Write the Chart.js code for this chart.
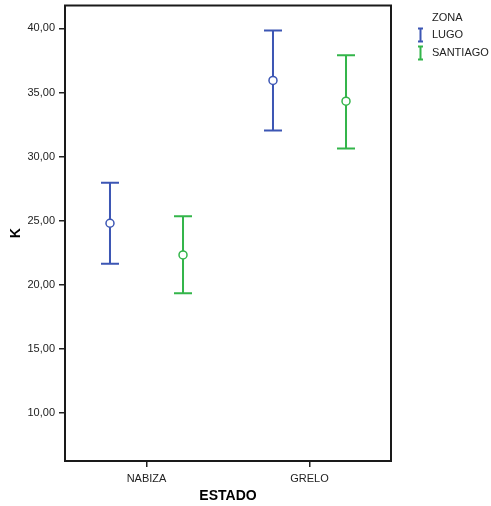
<!DOCTYPE html>
<html>
<head>
<meta charset="utf-8">
<script src="https://cdn.jsdelivr.net/npm/chart.js@4"></script>
<style>
  html, body { margin: 0; padding: 0; background: #fff; }
</style>
</head>
<body>
<canvas id="myChart" width="491" height="506"></canvas>
<script>
const categories = ["NABIZA", "GRELO"];
const zonas = ["LUGO", "SANTIAGO"];
const lugoMean = [24.79, 35.94];
const lugoLow = [21.62, 32.04];
const lugoHigh = [27.96, 39.84];
const santiagoMean = [22.32, 34.32];
const santiagoLow = [19.32, 30.62];
const santiagoHigh = [25.34, 37.91];
const yTicks = [10, 15, 20, 25, 30, 35, 40];

const blue = "#3c56b4";
const green = "#33b54a";
const offset = 0.224;

function points(means, shift) {
  return means.map((m, i) => ({ x: i + shift, y: m }));
}

// vertical error bars with caps, drawn through the y scale
const errorBars = {
  id: "errorBars",
  beforeDatasetsDraw(chart) {
    const ctx = chart.ctx;
    const y = chart.scales.y;
    chart.data.datasets.forEach((ds, i) => {
      const meta = chart.getDatasetMeta(i);
      meta.data.forEach((pt, j) => {
        const top = y.getPixelForValue(ds.high[j]);
        const bot = y.getPixelForValue(ds.low[j]);
        ctx.save();
        ctx.strokeStyle = ds.borderColor;
        ctx.lineWidth = 2;
        ctx.beginPath();
        ctx.moveTo(pt.x, top);
        ctx.lineTo(pt.x, bot);
        ctx.moveTo(pt.x - 9, top);
        ctx.lineTo(pt.x + 9, top);
        ctx.moveTo(pt.x - 9, bot);
        ctx.lineTo(pt.x + 9, bot);
        ctx.stroke();
        ctx.restore();
      });
    });
  },
  afterDraw(chart) {
    const ctx = chart.ctx;
    const a = chart.chartArea;
    ctx.save();
    ctx.strokeStyle = "#1a1a1a";
    ctx.lineWidth = 2;
    ctx.strokeRect(a.left, a.top, a.right - a.left, a.bottom - a.top);

    // legend
    ctx.font = "11px 'Liberation Sans', Arial";
    ctx.fillStyle = "#222";
    ctx.textBaseline = "middle";
    ctx.fillText("ZONA", 432, 18);
    chart.data.datasets.forEach((ds, i) => {
      const cy = 35 + i * 18;
      ctx.fillStyle = "#222";
      ctx.fillText(ds.label, 432, cy);
      ctx.strokeStyle = ds.borderColor;
      ctx.lineWidth = 2;
      ctx.beginPath();
      ctx.moveTo(420.5, cy - 6.5);
      ctx.lineTo(420.5, cy + 6.5);
      ctx.moveTo(418, cy - 6.5);
      ctx.lineTo(423, cy - 6.5);
      ctx.moveTo(418, cy + 6.5);
      ctx.lineTo(423, cy + 6.5);
      ctx.stroke();
    });
    ctx.restore();
  }
};

Chart.defaults.font.family = "'Liberation Sans', Arial, sans-serif";
Chart.defaults.color = "#222";

new Chart(document.getElementById("myChart"), {
  type: "scatter",
  data: {
    datasets: [
      {
        label: zonas[0],
        data: points(lugoMean, -offset),
        low: lugoLow,
        high: lugoHigh,
        borderColor: blue,
        backgroundColor: "#fff",
        pointRadius: 4,
        pointBorderWidth: 1.5,
      },
      {
        label: zonas[1],
        data: points(santiagoMean, offset),
        low: santiagoLow,
        high: santiagoHigh,
        borderColor: green,
        backgroundColor: "#fff",
        pointRadius: 4,
        pointBorderWidth: 1.5,
      },
    ],
  },
  options: {
    responsive: false,
    animation: false,
    layout: { padding: { top: 5, right: 100, left: 0, bottom: 0 } },
    plugins: { legend: { display: false }, tooltip: { enabled: false } },
    scales: {
      x: {
        type: "linear",
        min: -0.5,
        max: 1.5,
        afterBuildTicks: (s) => { s.ticks = categories.map((c, i) => ({ value: i })); },
        afterFit: (s) => { s.height = 45; s.paddingLeft = 0; s.paddingRight = 0; },
        ticks: {
          callback: (v) => categories[v],
          font: { size: 11 },
          padding: 5,
          maxRotation: 0,
        },
        grid: { drawOnChartArea: false, drawTicks: true, tickLength: 6, color: "#222", lineWidth: 1.5 },
        border: { display: false },
        title: { display: true, text: "ESTADO", font: { size: 14, weight: "bold" }, color: "#000", padding: { top: 0, bottom: 1 } },
      },
      y: {
        min: 6.23,
        max: 41.79,
        afterBuildTicks: (s) => { s.ticks = yTicks.map((v) => ({ value: v })); },
        afterFit: (s) => { s.width = 65; s.paddingTop = 0; s.paddingBottom = 0; },
        ticks: {
          callback: (v) => v.toFixed(2).replace(".", ","),
          font: { size: 11 },
          padding: 4,
        },
        grid: { drawOnChartArea: false, drawTicks: true, tickLength: 6, color: "#222", lineWidth: 1.5 },
        border: { display: false },
        title: { display: true, text: "K", font: { size: 14, weight: "bold" }, color: "#000", padding: { top: 8, bottom: 0 } },
      },
    },
  },
  plugins: [errorBars],
});
</script>
</body>
</html>
